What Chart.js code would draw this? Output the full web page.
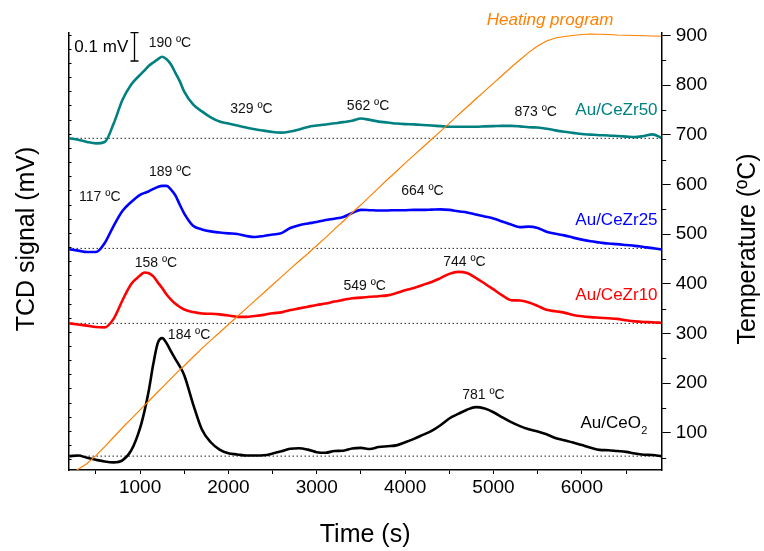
<!DOCTYPE html>
<html>
<head>
<meta charset="utf-8">
<script src="https://cdn.jsdelivr.net/npm/chart.js@4.4.1/dist/chart.umd.min.js"></script>
<style>
  html, body { margin: 0; padding: 0; background: #fff; }
  #wrap { width: 764px; height: 551px; position: relative; }
</style>
</head>
<body>
<div id="wrap"><canvas id="tpr"></canvas></div>
<script>
// time axis (s), shared by all traces
const timeS = [200, 300, 400, 500, 600, 700, 800, 900, 1000, 1050, 1100, 1150, 1200, 1250, 1300, 1350, 1400, 1450,
  1500, 1600, 1700, 1800, 1900, 2000, 2100, 2200, 2300, 2400, 2500, 2600, 2700, 2800, 2900, 3000,
  3100, 3200, 3300, 3400, 3500, 3600, 3700, 3800, 3900, 4000, 4100, 4200, 4300, 4400, 4500, 4600,
  4700, 4800, 4900, 5000, 5100, 5200, 5300, 5400, 5500, 5600, 5700, 5800, 5900, 6000, 6100, 6200,
  6300, 6400, 6500, 6600, 6700, 6800, 6900];

// TCD signal (mV, curves are stacked with an offset)
const ceZr50 = [1.172, 1.167, 1.159, 1.154, 1.159, 1.223, 1.307, 1.362, 1.396, 1.412, 1.428, 1.440, 1.451, 1.460, 1.451, 1.433, 1.403, 1.373,
  1.337, 1.292, 1.267, 1.246, 1.231, 1.224, 1.217, 1.210, 1.204, 1.199, 1.194, 1.192, 1.196, 1.203, 1.212, 1.217,
  1.221, 1.225, 1.229, 1.234, 1.242, 1.237, 1.231, 1.228, 1.224, 1.222, 1.221, 1.219, 1.217, 1.215, 1.213, 1.213,
  1.213, 1.213, 1.214, 1.215, 1.216, 1.216, 1.214, 1.211, 1.210, 1.206, 1.200, 1.195, 1.191, 1.187, 1.185, 1.183,
  1.182, 1.180, 1.178, 1.176, 1.180, 1.186, 1.174];
const ceZr25 = [0.780, 0.775, 0.770, 0.770, 0.802, 0.862, 0.915, 0.947, 0.972, 0.979, 0.985, 0.993, 1.000, 1.004, 1.004, 0.991, 0.970, 0.937,
  0.906, 0.863, 0.850, 0.843, 0.839, 0.836, 0.834, 0.827, 0.823, 0.827, 0.832, 0.837, 0.855, 0.865, 0.871, 0.876,
  0.883, 0.888, 0.894, 0.908, 0.919, 0.918, 0.917, 0.917, 0.918, 0.918, 0.919, 0.919, 0.920, 0.921, 0.919, 0.914,
  0.910, 0.903, 0.896, 0.889, 0.878, 0.867, 0.858, 0.860, 0.855, 0.842, 0.835, 0.829, 0.821, 0.814, 0.808, 0.804,
  0.800, 0.798, 0.795, 0.792, 0.788, 0.784, 0.779];
const ceZr10 = [0.518, 0.514, 0.510, 0.505, 0.504, 0.534, 0.599, 0.657, 0.687, 0.698, 0.695, 0.684, 0.663, 0.643, 0.620, 0.602, 0.587, 0.576,
  0.567, 0.558, 0.553, 0.552, 0.550, 0.546, 0.541, 0.541, 0.544, 0.548, 0.554, 0.557, 0.565, 0.571, 0.577, 0.583,
  0.588, 0.595, 0.601, 0.607, 0.609, 0.612, 0.614, 0.617, 0.625, 0.635, 0.643, 0.654, 0.664, 0.678, 0.693, 0.700,
  0.696, 0.679, 0.659, 0.638, 0.617, 0.600, 0.599, 0.592, 0.580, 0.566, 0.561, 0.556, 0.548, 0.543, 0.540, 0.538,
  0.536, 0.534, 0.529, 0.525, 0.523, 0.522, 0.520];
const ceO2 = [0.049, 0.051, 0.043, 0.036, 0.030, 0.027, 0.034, 0.069, 0.148, 0.208, 0.283, 0.375, 0.448, 0.466, 0.448, 0.419, 0.392, 0.366,
  0.335, 0.233, 0.143, 0.098, 0.072, 0.059, 0.055, 0.051, 0.051, 0.052, 0.058, 0.066, 0.075, 0.077, 0.072, 0.063,
  0.061, 0.067, 0.068, 0.076, 0.078, 0.074, 0.081, 0.084, 0.087, 0.098, 0.110, 0.124, 0.138, 0.158, 0.182, 0.198,
  0.213, 0.222, 0.217, 0.204, 0.186, 0.169, 0.155, 0.144, 0.136, 0.126, 0.113, 0.105, 0.097, 0.088, 0.079, 0.071,
  0.070, 0.067, 0.064, 0.058, 0.054, 0.053, 0.049];

// heating program (ºC)
const heating = [15, 26.5, 38, 54, 72, 91, 110, 128, 146, 155, 164, 173, 182, 191, 200, 209, 218, 227,
  235, 252.5, 270, 286, 302, 318, 334, 350, 366, 382, 398, 414, 430, 446, 461, 477,
  493, 510, 526, 543, 559, 576, 593, 610, 626, 643, 659, 675, 691, 707, 723, 740,
  756, 772, 788, 804, 820, 836, 851, 866, 879, 889, 895, 898, 900, 902, 903, 902.5,
  902, 901, 900.5, 900, 899.5, 899, 898.5];

const sampleNames = ["Au/CeZr50", "Au/CeZr25", "Au/CeZr10", "Au/CeO"];
const sampleColors = ["#008080", "#0000ff", "#ff0000", "#000000"];
const baselines = [1.172, 0.783, 0.518, 0.049];

const timeTicks = [500, 1000, 1500, 2000, 2500, 3000, 3500, 4000, 4500, 5000, 5500, 6000, 6500];
const tempTicks = [50, 100, 150, 200, 250, 300, 350, 400, 450, 500, 550, 600, 650, 700, 750, 800, 850, 900];
const signalTicks = [];
for (let k = 0; k <= 30; k++) signalTicks.push(0.038 + 0.05 * k);

// peak labels: [time, signal, text]
const peakNotes = [
  [1338, 1.509, "190 ºC"], [2260, 1.276, "329 ºC"], [3581, 1.286, "562 ºC"], [5477, 1.264, "873 ºC"],
  [544, 0.964, "117 ºC"], [1341, 1.052, "189 ºC"], [4196, 0.986, "664 ºC"],
  [1180, 0.730, "158 ºC"], [3543, 0.651, "549 ºC"], [4671, 0.733, "744 ºC"],
  [1555, 0.477, "184 ºC"], [4886, 0.265, "781 ºC"]
];
const nameSignal = [1.272, 0.883, 0.618, 0.166];

const FONT = "'Liberation Sans', Arial, Helvetica, sans-serif";
Chart.defaults.font.family = FONT;
Chart.defaults.color = "#000";

const pts = vals => timeS.map((t, i) => ({ x: t, y: vals[i] }));

const datasets = [];
baselines.forEach(b => {
  datasets.push({
    data: [{ x: 190, y: b }, { x: 6904, y: b }],
    borderColor: "#222", borderWidth: 1, borderDash: [1.5, 2.5],
    pointRadius: 0, yAxisID: "y", order: 5
  });
});
[ceZr50, ceZr25, ceZr10, ceO2].forEach((s, i) => {
  datasets.push({
    label: sampleNames[i], data: pts(s),
    borderColor: sampleColors[i], borderWidth: 2.6,
    pointRadius: 0, cubicInterpolationMode: "monotone", yAxisID: "y", order: 2
  });
});
datasets.push({
  label: "Heating program", data: pts(heating),
  borderColor: "#ff8000", borderWidth: 1.2, pointRadius: 0, yAxisID: "yT", order: 1
});

const decor = {
  id: "decor",
  afterDatasetsDraw(chart) {
    const ctx = chart.ctx, a = chart.chartArea;
    const sx = chart.scales.x, sy = chart.scales.y, st = chart.scales.yT;
    ctx.save();
    ctx.strokeStyle = "#000";
    ctx.lineWidth = 1;
    // inward ticks on signal axis
    signalTicks.forEach(v => {
      const y = Math.round(sy.getPixelForValue(v)) + 0.5;
      ctx.beginPath(); ctx.moveTo(a.left, y); ctx.lineTo(a.left + 3, y); ctx.stroke();
    });
    // minor ticks on temperature axis
    tempTicks.filter(v => v % 100 !== 0).forEach(v => {
      const y = Math.round(st.getPixelForValue(v)) + 0.5;
      ctx.beginPath(); ctx.moveTo(a.right, y); ctx.lineTo(a.right + 4.5, y); ctx.stroke();
    });
    // 0.1 mV scale bar
    const bx = Math.round(sx.getPixelForValue(934)) + 0.5;
    const b1 = sy.getPixelForValue(1.545), b2 = sy.getPixelForValue(1.445);
    ctx.lineWidth = 1.3;
    ctx.beginPath();
    ctx.moveTo(bx, b1); ctx.lineTo(bx, b2);
    ctx.moveTo(bx - 4, b1); ctx.lineTo(bx + 4, b1);
    ctx.moveTo(bx - 4, b2); ctx.lineTo(bx + 4, b2);
    ctx.stroke();
    ctx.fillStyle = "#000";
    ctx.font = "17px " + FONT;
    ctx.textAlign = "right"; ctx.textBaseline = "middle";
    ctx.fillText("0.1 mV", sx.getPixelForValue(866), sy.getPixelForValue(1.495));

    // peak temperatures
    ctx.font = "14px " + FONT;
    ctx.textAlign = "center";
    ctx.fillStyle = "#111";
    peakNotes.forEach(n => ctx.fillText(n[2], sx.getPixelForValue(n[0]), sy.getPixelForValue(n[1])));

    // sample names
    ctx.font = "17px " + FONT;
    ctx.textAlign = "right";
    const xr = sx.getPixelForValue(6857);
    for (let i = 0; i < 3; i++) {
      ctx.fillStyle = sampleColors[i];
      ctx.fillText(sampleNames[i], xr, sy.getPixelForValue(nameSignal[i]));
    }
    ctx.fillStyle = "#000";
    ctx.font = "11px " + FONT;
    const w2 = ctx.measureText("2").width;
    const xe = sx.getPixelForValue(6743), yb = sy.getPixelForValue(nameSignal[3]);
    ctx.textAlign = "left";
    ctx.fillText("2", xe - w2, yb + 8);
    ctx.font = "17px " + FONT;
    ctx.textAlign = "right";
    ctx.fillText(sampleNames[3], xe - w2 - 0.5, yb);

    // heating program label
    ctx.font = "italic 17px " + FONT;
    ctx.textAlign = "center";
    ctx.fillStyle = "#ff8000";
    ctx.fillText("Heating program", sx.getPixelForValue(5641), st.getPixelForValue(931.6));

    // axis titles
    ctx.fillStyle = "#000";
    ctx.font = "25px " + FONT;
    ctx.textAlign = "center";
    ctx.textBaseline = "alphabetic";
    ctx.fillText("Time (s)", (a.left + a.right) / 2, 542);
    ctx.textBaseline = "middle";
    ctx.save();
    ctx.translate(27, 239); ctx.rotate(-Math.PI / 2);
    ctx.fillText("TCD signal (mV)", 0, 0);
    ctx.restore();
    ctx.save();
    ctx.translate(748, 249); ctx.rotate(-Math.PI / 2);
    ctx.fillText("Temperature (ºC)", 0, 0);
    ctx.restore();
    ctx.restore();
  }
};

new Chart("tpr", {
  type: "line",
  data: { datasets: datasets },
  options: {
    responsive: true,
    maintainAspectRatio: false,
    animation: false,
    events: [],
    layout: { padding: { top: 33, left: 0, right: 0, bottom: 0 } },
    plugins: { legend: { display: false }, title: { display: false }, tooltip: { enabled: false } },
    scales: {
      x: {
        type: "linear", min: 190, max: 6904,
        afterBuildTicks: ax => { ax.ticks = timeTicks.map(v => ({ value: v })); },
        afterFit: ax => { ax.height = 81; },
        ticks: { autoSkip: false, maxRotation: 0, font: { size: 19 }, padding: 2,
          callback: v => (v % 1000 === 0 ? String(v) : "") },
        grid: { drawOnChartArea: false, drawTicks: true, tickLength: 4, tickColor: "#000", tickWidth: 1 },
        border: { display: true, color: "#000", width: 1.5 }
      },
      y: {
        type: "linear", position: "left", min: 0, max: 1.544,
        afterBuildTicks: ax => { ax.ticks = signalTicks.map(v => ({ value: v })); },
        afterFit: ax => { ax.width = 68.5; },
        ticks: { display: false },
        grid: { drawOnChartArea: false, drawTicks: false },
        border: { display: true, color: "#000", width: 1.5 }
      },
      yT: {
        type: "linear", position: "right", min: 25, max: 905,
        afterBuildTicks: ax => { ax.ticks = tempTicks.map(v => ({ value: v })); },
        afterFit: ax => { ax.width = 764 - 661.7; },
        ticks: { autoSkip: false, font: { size: 19 }, padding: 5,
          callback: v => (v % 100 === 0 ? String(v) : "") },
        grid: { drawOnChartArea: false, drawTicks: true, tickLength: 9, tickWidth: 1,
          tickColor: c => (c.tick && c.tick.value % 100 === 0 ? "#000" : "rgba(0,0,0,0)") },
        border: { display: true, color: "#000", width: 1.5 }
      }
    }
  },
  plugins: [decor]
});
</script>
</body>
</html>
